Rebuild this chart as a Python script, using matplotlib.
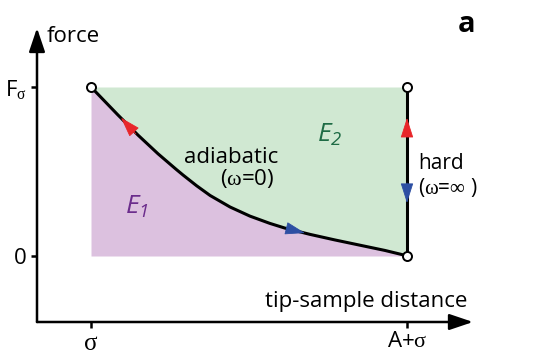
import matplotlib

matplotlib.use("Agg")

import matplotlib.pyplot as plt
from matplotlib.patches import ArrowStyle

plt.rcParams["font.family"] = ["Open Sans", "DejaVu Sans"]
plt.rcParams["mathtext.fontset"] = "custom"
plt.rcParams["mathtext.rm"] = "Liberation Serif"
plt.rcParams["mathtext.it"] = "Liberation Serif"
plt.rcParams["mathtext.sf"] = "Open Sans:italic"

# adiabatic force curve, distance in units of A (0 = sigma, 1 = A+sigma), force in units of F_sigma
curve_x = [0.0, 0.085, 0.149, 0.212, 0.270, 0.292, 0.334, 0.377, 0.440, 0.503,
           0.566, 0.614, 0.693, 0.772, 0.851, 0.930, 0.994, 1.0]
curve_f = [1.0, 0.835, 0.715, 0.605, 0.512, 0.478, 0.416, 0.358, 0.290, 0.236,
           0.193, 0.165, 0.128, 0.095, 0.064, 0.033, 0.004, 0.0]

# hard wall branch (omega = infinity)
hard_x = [1.0, 1.0]
hard_f = [0.0, 1.0]

# open end points
end_x = [0.0, 1.0, 1.0]
end_f = [1.0, 1.0, 0.0]

xtick_pos = [0.0, 1.0]
xtick_labels = [r"$\mathrm{\sigma}$", r"A+$\mathrm{\sigma}$"]
ytick_pos = [0.0, 1.0]
ytick_labels = ["0", r"F$_{\mathrm{\sigma}}$"]

PURPLE = "#dcc1df"
GREEN = "#d0e8d2"
RED = "#e8262a"
BLUE = "#2d4fa3"

fig = plt.figure(figsize=(5.45, 3.57), dpi=100)
ax = fig.add_axes([37 / 545, 1 - 322 / 357, (473 - 37) / 545, (322 - 28) / 357])
ax.set_xlim(-0.1709, 1.2089)
ax.set_ylim(-0.3905, 1.3491)
for s in ax.spines.values():
    s.set_visible(False)

ax.fill_between(curve_x, curve_f, 0, color=PURPLE, lw=0, zorder=1)
ax.fill_between(curve_x, curve_f, 1, color=GREEN, lw=0, zorder=1)
ax.plot(curve_x, curve_f, color="black", lw=2.2, zorder=3, solid_capstyle="round")
ax.plot(hard_x, hard_f, color="black", lw=2.2, zorder=3)
ax.plot(end_x, end_f, "o", ms=6.5, mfc="white", mec="black", mew=1.4, zorder=5, clip_on=False)

head = ArrowStyle("-|>", head_length=0.75, head_width=0.24)
for tip, base, col in [
    ((0.095, 0.818), (0.142, 0.722), RED),
    ((0.677, 0.136), (0.622, 0.162), BLUE),
    ((1.0, 0.817), (1.0, 0.716), RED),
    ((1.0, 0.314), (1.0, 0.432), BLUE),
]:
    ax.annotate("", xy=tip, xytext=base,
                arrowprops=dict(arrowstyle=head, color=col, lw=0.6, mutation_scale=17,
                                shrinkA=0, shrinkB=0), zorder=4)

# axes with arrow heads
axis_arrow = dict(arrowstyle=ArrowStyle("-|>", head_length=0.8, head_width=0.27), color="black",
                  lw=1.8, mutation_scale=18, shrinkA=0, shrinkB=0)
ax.annotate("", xy=(1, 0), xytext=(0, 0), xycoords="axes fraction", arrowprops=axis_arrow)
ax.annotate("", xy=(0, 1), xytext=(0, 0), xycoords="axes fraction", arrowprops=axis_arrow)

ax.set_xticks(xtick_pos, labels=xtick_labels)
ax.set_yticks(ytick_pos, labels=ytick_labels)
ax.tick_params(direction="out", length=4.5, width=1.8, labelsize=16, pad=3)
ax.tick_params(axis="x", pad=2)
ax.get_xticklabels()[0].set_fontsize(18)

ax.text(-0.139, 1.30, "force", fontsize=16, ha="left", va="center")
ax.text(1.19, -0.27, "tip-sample distance", fontsize=16, ha="right", va="center")
ax.text(0.443, 0.58, "adiabatic", fontsize=16, ha="center", va="center", zorder=6)
ax.text(0.494, 0.456, r"($\mathrm{\omega}$=0)", fontsize=16, ha="center", va="center", zorder=6)
ax.text(1.035, 0.55, "hard", fontsize=15, ha="left", va="center")
ax.text(1.035, 0.408, r"($\mathrm{\omega}$=$\mathrm{\infty}$ )", fontsize=15, ha="left", va="center")
ax.text(0.756, 0.716, r"$\mathsf{E_2}$", fontsize=19, color="#1e6b45", ha="center", va="center")
ax.text(0.146, 0.29, r"$\mathsf{E_1}$", fontsize=19, color="#6b2c8c", ha="center", va="center")
fig.text(467 / 545, 1 - 24 / 357, "a", fontsize=21, fontweight="bold", ha="center", va="center")

fig.savefig("out.png", dpi=100)
